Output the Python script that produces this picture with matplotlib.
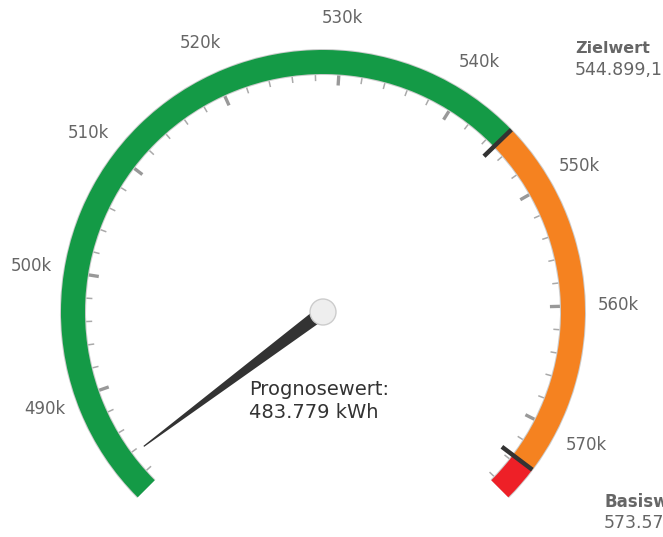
import numpy as np
import matplotlib
matplotlib.use("Agg")
import matplotlib.pyplot as plt
from matplotlib.patches import Wedge, Circle, Polygon

# gauge data (kWh)
gauge_min = 480900
gauge_max = 576400
prognose = 483779
zielwert = 544899.1
basiswert = 573570

band_edges = [gauge_min, zielwert, basiswert, gauge_max]
band_colors = ["#149a46", "#f58220", "#ee2027"]
major_ticks = list(range(490000, 571000, 10000))
minor_ticks = [v for v in range(482000, 577000, 2000) if v % 10000 != 0]
tick_labels = [f"{v // 1000}k" for v in major_ticks]

# layout in pixels
W, H = 663, 537
CX, CY = 323, 312
R_OUT, R_IN = 262, 238
START, END = -135, 135

plt.rcParams.update({"font.family": "DejaVu Sans"})


def to_angle(v):
    return START + (END - START) * (v - gauge_min) / (gauge_max - gauge_min)


def point(v, r):
    a = np.radians(to_angle(v))
    return CX + r * np.sin(a), CY - r * np.cos(a)


def de_num(v, dec=0):
    s = f"{v:,.{dec}f}"
    return s.replace(",", "#").replace(".", ",").replace("#", ".")


fig = plt.figure(figsize=(W / 100, H / 100), dpi=100)
ax = fig.add_axes([0, 0, 1, 1])
ax.set_xlim(0, W)
ax.set_ylim(H, 0)
ax.axis("off")

# pane outline
ax.add_patch(Wedge((CX, CY), R_OUT + 1, START - 90, END - 90,
                   width=R_OUT - R_IN + 2, color="#cccccc", lw=0))

# colour bands
for lo, hi, c in zip(band_edges[:-1], band_edges[1:], band_colors):
    ax.add_patch(Wedge((CX, CY), R_OUT, to_angle(lo) - 90, to_angle(hi) - 90,
                       width=R_OUT - R_IN, color=c, lw=0))

# ticks
for v in minor_ticks:
    x0, y0 = point(v, R_IN - 1)
    x1, y1 = point(v, R_IN - 7)
    ax.plot([x0, x1], [y0, y1], color="#aaaaaa", lw=1.1, solid_capstyle="butt")
for v in major_ticks:
    x0, y0 = point(v, R_IN - 1)
    x1, y1 = point(v, R_IN - 11)
    ax.plot([x0, x1], [y0, y1], color="#999999", lw=2.4, solid_capstyle="butt")

for v, lab in zip(major_ticks, tick_labels):
    x, y = point(v, 295)
    ax.text(x, y, lab, ha="center", va="center", fontsize=12, color="#666666")

# target / base markers
for v in [zielwert, basiswert]:
    x0, y0 = point(v, 224)
    x1, y1 = point(v, R_OUT)
    ax.plot([x0, x1], [y0, y1], color="#333333", lw=3.2, solid_capstyle="butt")

# needle
a = np.radians(to_angle(prognose))
d = np.array([np.sin(a), -np.cos(a)])
n = np.array([np.cos(a), np.sin(a)])
c = np.array([CX, CY])
tip, rear = 224, 8
needle = [c - rear * d + 7 * n, c + tip * d + 0.6 * n,
          c + tip * d - 0.6 * n, c - rear * d - 7 * n]
ax.add_patch(Polygon(needle, closed=True, color="#333333", lw=0))
ax.add_patch(Circle((CX, CY), 13, facecolor="#eeeeee", edgecolor="#cccccc", lw=1))

# labels
ax.text(249, 395, "Prognosewert:", fontsize=14, color="#333333", va="baseline")
ax.text(249, 418, f"{de_num(prognose)} kWh", fontsize=14, color="#333333", va="baseline")

ax.text(575, 53, "Zielwert", fontsize=11.5, fontweight="bold", color="#666666", va="baseline")
ax.text(575, 75, de_num(zielwert, 1), fontsize=12.5, color="#666666", va="baseline")
ax.text(604, 507, "Basiswert", fontsize=12, fontweight="bold", color="#666666", va="baseline")
ax.text(604, 528, de_num(basiswert, 1), fontsize=12.5, color="#666666", va="baseline")

fig.savefig("out.png", dpi=100)
